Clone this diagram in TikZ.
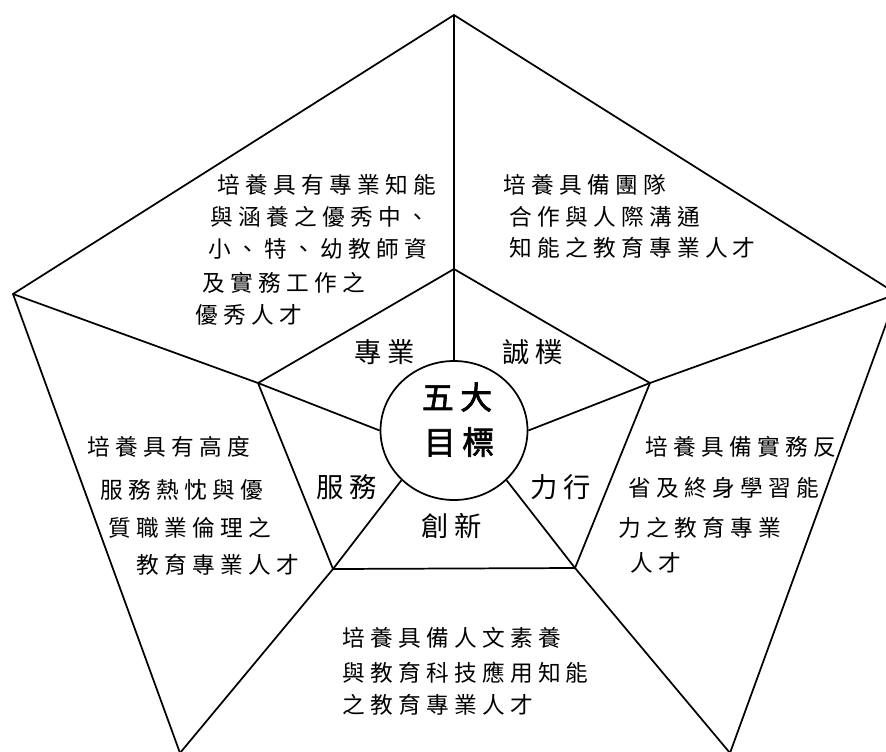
\documentclass[tikz,border=0pt]{standalone}
\usepackage{fontspec}
\usetikzlibrary{shapes.geometric}
\newfontfamily\cjktext[LetterSpace=23]{Noto Sans CJK TC}
\newfontfamily\cjklabel[LetterSpace=20]{Noto Sans CJK TC}
\newfontfamily\cjktitle[LetterSpace=20,FakeBold=2]{Noto Sans CJK TC}
\begin{document}
\begin{tikzpicture}[x=0.75pt,y=-0.75pt,line width=1.3pt,line join=miter,
  txt/.style={anchor=west,inner sep=0pt,font=\cjktext\fontsize{17pt}{20pt}\selectfont},
  lbl/.style={anchor=center,inner sep=0pt,font=\cjklabel\fontsize{20.5pt}{24pt}\selectfont},
  ttl/.style={anchor=center,inner sep=0pt,font=\cjktitle\fontsize{24pt}{28pt}\selectfont},
  goalbox/.style={draw,ellipse,inner sep=0pt,minimum width=110.25pt,minimum height=104.25pt}]
\useasboundingbox (0,0) rectangle (886,751);
\clip (0,0) rectangle (886,751);
% outer pentagon
\coordinate (OT) at (454,15);
\coordinate (OL) at (13,294);
\coordinate (OR) at (897,294);
\coordinate (OBL) at (180,753);
\coordinate (OBR) at (730,753);
% inner pentagon
\coordinate (IT) at (454,269);
\coordinate (IL) at (258,383);
\coordinate (IR) at (650,383);
\coordinate (IBL) at (333,569);
\coordinate (IBR) at (575,568);
\draw (OBL) -- (OL) -- (OT) -- (OR) -- (OBR);
\draw (IT) -- (IL) -- (IBL) -- (IBR) -- (IR) -- cycle;
\draw (OT) -- (IT);
\draw (OL) -- (IL);
\draw (OR) -- (IR);
\draw (OBL) -- (IBL);
\draw (OBR) -- (IBR);
% centre
\node[goalbox] (goal) at (454,430.5) {};
\draw (goal.north) -- (IT);
\draw (goal.west) -- (IL);
\draw (goal.east) -- (IR);
\draw (goal.south west) -- (IBL);
\draw (goal.south east) -- (IBR);
\node[ttl] (t1) at (457,397) {五大};
\node[ttl] (t2) at (459,442) {目標};
% labels
\node[lbl] (la) at (385,352) {專業};
\node[lbl] (lb) at (533,352) {誠樸};
\node[lbl] (lc) at (347,487) {服務};
\node[lbl] (ld) at (561,487) {力行};
\node[lbl] (le) at (452,526) {創新};
% text blocks
\node[txt] (tl1) at (217,185) {培養具有專業知能};
\node[txt] (tl2) at (210,217) {與涵養之優秀中、};
\node[txt] (tl3) at (208,249) {小、特、幼教師資};
\node[txt] (tl4) at (202,283) {及實務工作之};
\node[txt] (tl5) at (195,315) {優秀人才};
\node[txt] (tr1) at (503,185) {培養具備團隊};
\node[txt] (tr2) at (509,217) {合作與人際溝通};
\node[txt] (tr3) at (509,248) {知能之教育專業人才};
\node[txt] (l1) at (87,447) {培養具有高度};
\node[txt] (l2) at (100,490) {服務熱忱與優};
\node[txt] (l3) at (108,528) {質職業倫理之};
\node[txt] (l4) at (136,565) {教育專業人才};
\node[txt] (r1) at (645,447) {培養具備實務反};
\node[txt] (r2) at (628,488) {省及終身學習能};
\node[txt] (r3) at (618,528) {力之教育專業};
\node[txt] (r4) at (630,563) {人才};
\node[txt] (b1) at (342,638) {培養具備人文素養};
\node[txt] (b2) at (342,673) {與教育科技應用知能};
\node[txt] (b3) at (342,705) {之教育專業人才};
\end{tikzpicture}
\end{document}
